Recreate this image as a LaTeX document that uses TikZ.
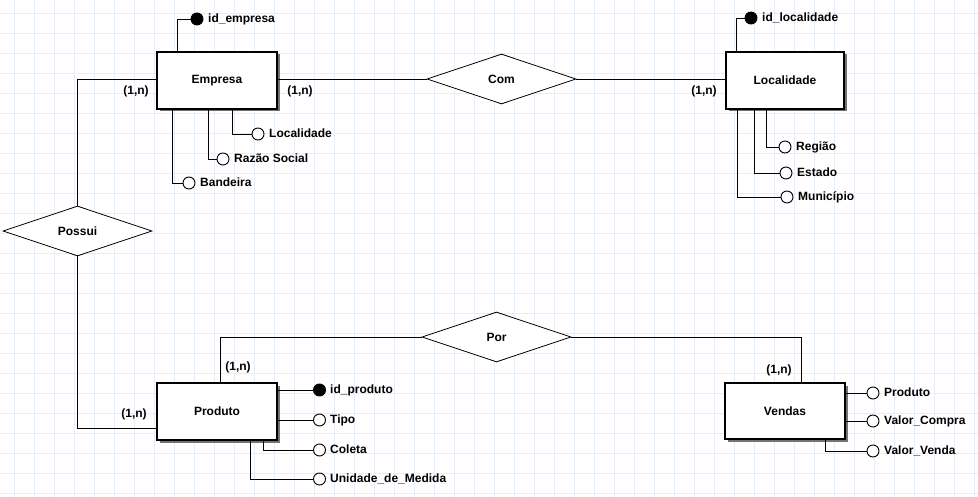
\documentclass[tikz,border=0pt]{standalone}
\usepackage{fontspec}
\setmainfont{Liberation Sans}
\usetikzlibrary{shapes.geometric,shadows}
\definecolor{gridc}{RGB}{228,238,248}
\tikzset{
  every node/.style={font=\fontsize{12}{14}\selectfont\bfseries},
  entity/.style={draw=black, line width=1.1pt, fill=white, minimum width=120pt, minimum height=57pt, inner sep=0pt,
    drop shadow={shadow xshift=2.5pt, shadow yshift=-2.5pt, fill=black!55, opacity=1}},
  rel/.style={draw=black, line width=0.8pt, fill=white, diamond, minimum width=149pt, minimum height=50pt, inner sep=0pt},
  attr/.style={draw=black, line width=0.9pt, fill=white, circle, minimum size=12pt, inner sep=0pt},
  keyattr/.style={attr, fill=black},
  attrlabel/.style={anchor=west, inner sep=0pt, text height=9pt, text depth=2.5pt},
  card/.style={inner sep=0pt, text height=9pt, text depth=2.5pt},
  conn/.style={draw=black, line width=0.9pt}
}
\begin{document}
\begin{tikzpicture}[x=1pt,y=-1pt]
\useasboundingbox (0,0) rectangle (978,497);
\fill[white] (0,0) rectangle (978,497);
\foreach \gx in {14,34,...,974} \draw[gridc, line width=0.8pt] (\gx,0) -- (\gx,497);
\foreach \gy in {13,33,...,493} \draw[gridc, line width=0.8pt] (0,\gy) -- (978,\gy);

% relationships
\node[rel] (com) at (501.5,79) {Com};
\node[rel] (possui) at (77.5,231) {Possui};
\node[rel] (por) at (496.5,337) {Por};

% entities
\node[entity] (empresa) at (217,80.5) {Empresa};
\node[entity, minimum width=118pt] (localidade) at (785,80.5) {Localidade};
\node[entity] (produto) at (217,411.5) {Produto};
\node[entity, minimum height=56pt] (vendas) at (785,411) {Vendas};

% relationship connectors
\draw[conn] (empresa.west |- 0,79) -| (possui.north);
\draw[conn] (possui.south) |- (produto.west |- 0,428);
\draw[conn] (empresa.east |- com.west) -- (com.west);
\draw[conn] (com.east) -- (localidade.west |- com.east);
\draw[conn] (por.west) -| (produto.north -| 220,0);
\draw[conn] (por.east) -| (vendas.north -| 801,0);

% cardinalities
\node[card] (c1) at (136,91) {(1,n)};
\node[card] (c2) at (300,91) {(1,n)};
\node[card] (c3) at (704,91) {(1,n)};
\node[card] (c4) at (134,414) {(1,n)};
\node[card] (c5) at (238,367) {(1,n)};
\node[card] (c6) at (779,370) {(1,n)};

% Empresa attributes
\node[keyattr] (a1) at (197,19) {};
\node[attrlabel] (l1) at (208,19) {id\_empresa};
\draw[conn] (empresa.north -| 177,0) |- (a1.west);
\node[attr] (a2) at (258,134) {};
\node[attrlabel] (l2) at (269,134) {Localidade};
\draw[conn] (empresa.south -| 232,0) |- (a2.west);
\node[attr] (a3) at (223,159) {};
\node[attrlabel] (l3) at (234,159) {Razão Social};
\draw[conn] (empresa.south -| 208,0) |- (a3.west);
\node[attr] (a4) at (189,183) {};
\node[attrlabel] (l4) at (200,183) {Bandeira};
\draw[conn] (empresa.south -| 172,0) |- (a4.west);

% Localidade attributes
\node[keyattr] (b1) at (751,18) {};
\node[attrlabel] (m1) at (762,18) {id\_localidade};
\draw[conn] (localidade.north -| 736,0) |- (b1.west);
\node[attr] (b2) at (785,147) {};
\node[attrlabel] (m2) at (796,147) {Região};
\draw[conn] (localidade.south -| 766,0) |- (b2.west);
\node[attr] (b3) at (786,173) {};
\node[attrlabel] (m3) at (797,173) {Estado};
\draw[conn] (localidade.south -| 754,0) |- (b3.west);
\node[attr] (b4) at (787,197) {};
\node[attrlabel] (m4) at (798,197) {Município};
\draw[conn] (localidade.south -| 737,0) |- (b4.west);

% Produto attributes
\node[keyattr] (p1) at (319.5,390) {};
\node[attrlabel] (q1) at (330,390) {id\_produto};
\draw[conn] (produto.east |- p1.west) -- (p1.west);
\node[attr] (p2) at (319.5,420) {};
\node[attrlabel] (q2) at (330,420) {Tipo};
\draw[conn] (produto.east |- p2.west) -- (p2.west);
\node[attr] (p3) at (319.5,450) {};
\node[attrlabel] (q3) at (330,450) {Coleta};
\draw[conn] (produto.south -| 263,0) |- (p3.west);
\node[attr] (p4) at (319.5,479) {};
\node[attrlabel] (q4) at (330,479) {Unidade\_de\_Medida};
\draw[conn] (produto.south -| 250,0) |- (p4.west);

% Vendas attributes
\node[attr] (v1) at (873,393) {};
\node[attrlabel] (w1) at (884,393) {Produto};
\draw[conn] (vendas.east |- v1.west) -- (v1.west);
\node[attr] (v2) at (873,421) {};
\node[attrlabel] (w2) at (884,421) {Valor\_Compra};
\draw[conn] (vendas.east |- v2.west) -- (v2.west);
\node[attr] (v3) at (873,451) {};
\node[attrlabel] (w3) at (884,451) {Valor\_Venda};
\draw[conn] (vendas.south -| 825,0) |- (v3.west);
\end{tikzpicture}
\end{document}
